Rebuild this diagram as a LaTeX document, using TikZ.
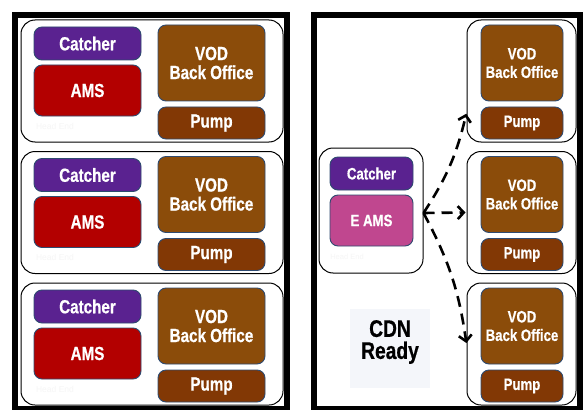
\documentclass[tikz,border=0pt]{standalone}
\usepackage{fontspec}
\newfontfamily\lbl{Liberation Sans}[FakeStretch=0.8,BoldFeatures={FakeBold=0.6}]
\newfontfamily\lblthin{Liberation Sans}
\usetikzlibrary{arrows.meta}
\definecolor{catc}{HTML}{5A2290}
\definecolor{amsc}{HTML}{B30000}
\definecolor{vodc}{HTML}{8B4C0A}
\definecolor{pumpc}{HTML}{823805}
\definecolor{eamsc}{HTML}{C0478F}
\definecolor{boxline}{HTML}{2E4A70}
\definecolor{cdnbg}{HTML}{F4F6FA}
\definecolor{faint}{HTML}{F6F6F6}
\begin{document}
\begin{tikzpicture}[x=1pt,y=-1pt,
  frame/.style={draw=black,line width=6pt},
  grp/.style={draw=black,line width=1pt,rounded corners=14pt,fill=white,inner sep=0pt},
  box/.style={draw=boxline,line width=0.9pt,rounded corners=8pt,text=white,align=center,inner sep=0pt},
  bigtxt/.style={font=\lbl\bfseries\fontsize{19}{19}\selectfont},
  smalltxt/.style={font=\lbl\bfseries\fontsize{16.5}{18.5}\selectfont},
  headend/.style={text=faint,font=\lblthin\fontsize{8.5}{10}\selectfont,inner sep=0pt},
  flow/.style={line width=2.6pt,dash pattern=on 11pt off 7pt,-{Straight Barb[length=6pt,width=13pt]},shorten >=1pt}
]
\useasboundingbox (0,0) rectangle (588,409);
\clip (0,0) rectangle (588,409);
\fill[white] (0,0) rectangle (588,409);
% panel frames
\draw[frame] (15,15) rectangle (287,409);
\draw[frame] (314,15) rectangle (580,409);
% left panel groups
\foreach \i/\y in {1/20,2/151.5,3/283}{
  \node[grp,minimum width=262pt,minimum height=122pt] (g\i) at (152,\y+61) {};
  \node[headend] (h\i) at (55,\y+106) {Head End};
  \node[box,bigtxt,fill=catc,minimum width=107pt,minimum height=33pt] (c\i) at (87.5,\y+23.5) {Catcher};
  \node[box,bigtxt,fill=amsc,minimum width=107pt,minimum height=51pt] (a\i) at (87.5,\y+70.5) {AMS};
  \node[box,bigtxt,fill=vodc,minimum width=107pt,minimum height=76pt] (v\i) at (211.5,\y+43) {VOD\\Back Office};
  \node[box,bigtxt,fill=pumpc,minimum width=107pt,minimum height=32pt] (p\i) at (211.5,\y+103) {Pump};
}
% right panel groups
\foreach \i/\y in {1/20,2/151.5,3/283}{
  \node[grp,minimum width=109pt,minimum height=122pt] (r\i) at (521.5,\y+61) {};
  \node[box,smalltxt,fill=vodc,minimum width=82pt,minimum height=76pt] (rv\i) at (522,\y+43) {VOD\\Back Office};
  \node[box,smalltxt,fill=pumpc,minimum width=82pt,minimum height=32pt] (rp\i) at (522,\y+103) {Pump};
}
% source group
\node[grp,minimum width=104pt,minimum height=125pt] (src) at (371,210.5) {};
\node[headend,font=\lblthin\fontsize{7.5}{9}\selectfont] (sh) at (347,257) {Head End};
\node[box,smalltxt,fill=catc,minimum width=83pt,minimum height=33pt] (sc) at (371.5,173.5) {Catcher};
\node[box,smalltxt,fill=eamsc,minimum width=83pt,minimum height=51pt] (se) at (371.5,220.5) {E AMS};
% CDN ready
\node[fill=cdnbg,minimum width=80pt,minimum height=79pt,inner sep=0pt] (cdnbox) at (390,348.5) {};
\node[font=\lbl\bfseries\fontsize{24}{22}\selectfont,align=center,inner sep=0pt] (cdn) at (390,342) {CDN\\Ready};
% arrows
\coordinate (hub) at ([yshift=-2.5pt]src.east);
\draw[flow] (hub) to[bend right=10] (r1.210);
\draw[flow] (hub) -- (r2.west);
\draw[flow] (hub) to[bend left=10] (r3.west);
\end{tikzpicture}
\end{document}
